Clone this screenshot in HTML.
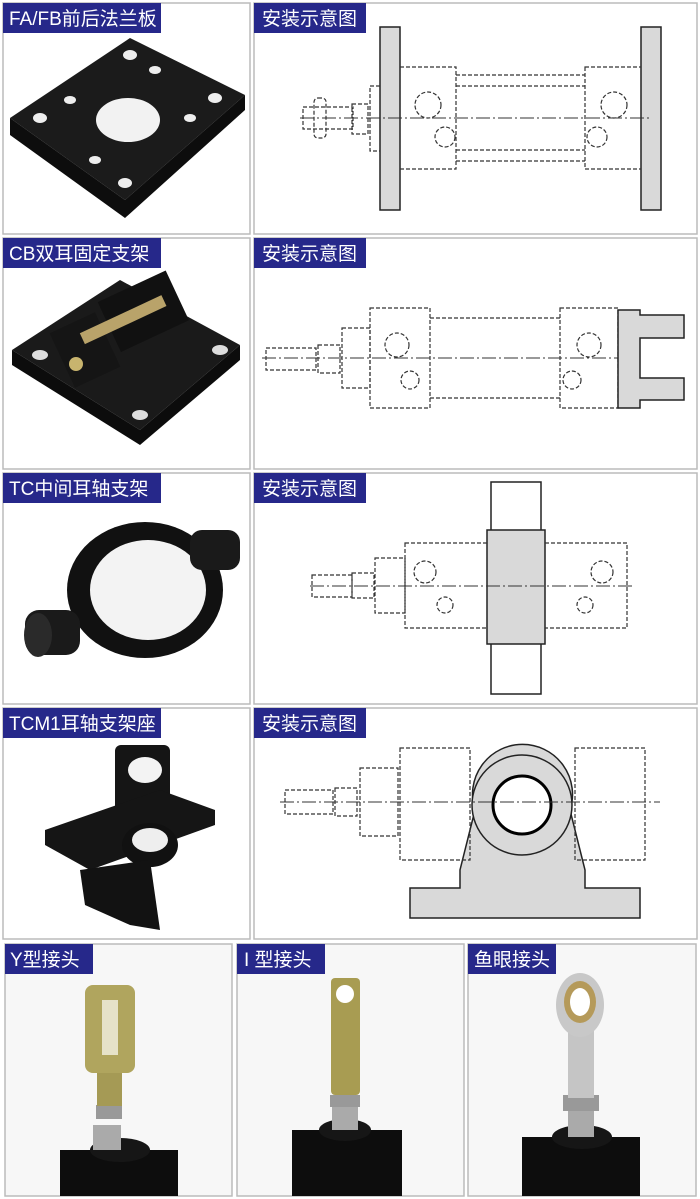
<!DOCTYPE html>
<html><head><meta charset="utf-8"><style>
html,body{margin:0;padding:0;background:#fff}
svg{display:block}
text{font-family:"Liberation Sans","Noto Sans CJK SC",sans-serif;fill:#fff;font-size:19px}
.d{fill:none;stroke:#333;stroke-width:1.2;stroke-dasharray:4 2}
.s{fill:none;stroke:#222;stroke-width:1.5}
.c{fill:none;stroke:#333;stroke-width:1;stroke-dasharray:14 3 2 3}
.g{fill:#d9d9d9;stroke:#222;stroke-width:1.5}
.p{fill:#fff;stroke:#bbb;stroke-width:1.5}
.lb{fill:#26288a}
</style></head><body>
<svg width="700" height="1199" viewBox="0 0 700 1199">
<rect width="700" height="1199" fill="#fff"/>
<rect class="p" x="3" y="3" width="247" height="231"/>
<rect class="p" x="254" y="3" width="443" height="231"/>
<rect class="p" x="3" y="238" width="247" height="231"/>
<rect class="p" x="254" y="238" width="443" height="231"/>
<rect class="p" x="3" y="473" width="247" height="231"/>
<rect class="p" x="254" y="473" width="443" height="231"/>
<rect class="p" x="3" y="708" width="247" height="231"/>
<rect class="p" x="254" y="708" width="443" height="231"/>
<rect class="p" x="5" y="944" width="227" height="252" style="fill:#f7f7f7"/>
<rect class="p" x="237" y="944" width="227" height="252" style="fill:#f7f7f7"/>
<rect class="p" x="468" y="944" width="228" height="252" style="fill:#f7f7f7"/>

<polygon points="10,118 130,38 245,95 125,200" fill="#1b1b1b"/>
<polygon points="125,200 245,95 245,110 125,218 10,135 10,118" fill="#0d0d0d"/>
<ellipse cx="128" cy="120" rx="32" ry="22" fill="#f2f2f2"/>
<g fill="#eee"><ellipse cx="40" cy="118" rx="7" ry="5"/><ellipse cx="130" cy="55" rx="7" ry="5"/><ellipse cx="215" cy="98" rx="7" ry="5"/><ellipse cx="125" cy="183" rx="7" ry="5"/><ellipse cx="70" cy="100" rx="6" ry="4"/><ellipse cx="155" cy="70" rx="6" ry="4"/><ellipse cx="190" cy="118" rx="6" ry="4"/><ellipse cx="95" cy="160" rx="6" ry="4"/></g>

<rect class="g" x="380" y="27" width="20" height="183"/>
<rect class="g" x="641" y="27" width="20" height="183"/>
<rect class="d" x="400" y="67" width="56" height="102"/>
<rect class="d" x="585" y="67" width="56" height="102"/>
<line class="d" x1="456" y1="75" x2="585" y2="75"/><line class="d" x1="456" y1="86" x2="585" y2="86"/>
<line class="d" x1="456" y1="150" x2="585" y2="150"/><line class="d" x1="456" y1="161" x2="585" y2="161"/>
<line class="c" x1="300" y1="118" x2="650" y2="118"/>
<rect class="d" x="370" y="86" width="10" height="65"/>
<rect class="d" x="352" y="104" width="16" height="30"/>
<rect class="d" x="303" y="107" width="50" height="22"/>
<rect class="d" x="314" y="98" width="12" height="40" rx="4"/>
<circle class="d" cx="428" cy="105" r="13"/><circle class="d" cx="445" cy="137" r="10"/>
<circle class="d" cx="614" cy="105" r="13"/><circle class="d" cx="597" cy="137" r="10"/>

<polygon points="12,350 120,280 240,345 140,430" fill="#1a1a1a"/>
<polygon points="12,350 140,430 140,445 12,365" fill="#0c0c0c"/>
<polygon points="140,430 240,345 240,360 140,445" fill="#0c0c0c"/>
<rect x="105" y="285" width="75" height="55" fill="#111" transform="rotate(-25 140 310)"/>
<rect x="60" y="320" width="50" height="60" fill="#151515" transform="rotate(-25 85 350)"/>
<rect x="78" y="315" width="90" height="12" fill="#b9a36a" transform="rotate(-25 120 320)"/>
<circle cx="76" cy="364" r="7" fill="#c8b46e"/>
<g fill="#ddd"><ellipse cx="40" cy="355" rx="8" ry="5"/><ellipse cx="220" cy="350" rx="8" ry="5"/><ellipse cx="140" cy="415" rx="8" ry="5"/></g>

<rect class="d" x="370" y="308" width="60" height="100"/>
<rect class="d" x="560" y="308" width="58" height="100"/>
<line class="d" x1="430" y1="318" x2="560" y2="318"/><line class="d" x1="430" y1="398" x2="560" y2="398"/>
<rect class="d" x="342" y="328" width="28" height="60"/>
<rect class="d" x="318" y="345" width="22" height="28"/>
<rect class="d" x="266" y="348" width="50" height="22"/>
<line class="c" x1="262" y1="358" x2="640" y2="358"/>
<circle class="d" cx="397" cy="345" r="12"/><circle class="d" cx="410" cy="380" r="9"/>
<circle class="d" cx="589" cy="345" r="12"/><circle class="d" cx="572" cy="380" r="9"/>
<path class="g" d="M618,310 H640 V315 H684 V338 H640 V378 H684 V400 H640 V408 H618 Z"/>

<ellipse cx="145" cy="590" rx="78" ry="68" fill="#111"/>
<ellipse cx="148" cy="590" rx="58" ry="50" fill="#f3f3f3"/>
<rect x="190" y="530" width="50" height="40" rx="12" fill="#1a1a1a"/>
<rect x="25" y="610" width="55" height="45" rx="14" fill="#1a1a1a"/>
<ellipse cx="38" cy="635" rx="14" ry="22" fill="#2a2a2a"/>

<rect class="s" x="491" y="482" width="50" height="212" fill="#fff"/>
<rect class="g" x="487" y="530" width="58" height="114"/>
<rect class="d" x="405" y="543" width="82" height="85"/>
<rect class="d" x="545" y="543" width="82" height="85"/>
<rect class="d" x="375" y="558" width="30" height="55"/>
<rect class="d" x="352" y="573" width="22" height="25"/>
<rect class="d" x="312" y="575" width="40" height="22"/>
<line class="c" x1="310" y1="586" x2="635" y2="586"/>
<circle class="d" cx="425" cy="572" r="11"/><circle class="d" cx="445" cy="605" r="8"/>
<circle class="d" cx="602" cy="572" r="11"/><circle class="d" cx="585" cy="605" r="8"/>

<rect x="115" y="745" width="55" height="80" rx="6" fill="#151515"/>
<ellipse cx="145" cy="770" rx="17" ry="13" fill="#f3f3f3"/>
<polygon points="45,830 160,790 215,810 215,825 90,870 45,845" fill="#151515"/>
<ellipse cx="150" cy="845" rx="28" ry="22" fill="#111"/>
<ellipse cx="150" cy="840" rx="18" ry="12" fill="#eee"/>
<polygon points="80,870 150,860 160,930 130,925 85,905" fill="#121212"/>

<path class="g" d="M410,888 H460 V870 L475,810 A50,50 0 1 1 570,810 L585,870 V888 H640 V918 H410 Z"/>
<circle cx="522" cy="805" r="50" fill="#d9d9d9" stroke="#222" stroke-width="1.5"/>
<circle cx="522" cy="805" r="29" fill="#fff" stroke="#000" stroke-width="3"/>
<rect class="d" x="400" y="748" width="70" height="112"/>
<rect class="d" x="575" y="748" width="70" height="112"/>
<rect class="d" x="360" y="768" width="38" height="68"/>
<rect class="d" x="335" y="788" width="22" height="28"/>
<rect class="d" x="285" y="790" width="48" height="24"/>
<line class="c" x1="280" y1="802" x2="660" y2="802"/>

<g>
<rect x="60" y="1150" width="118" height="46" fill="#0d0d0d"/>
<ellipse cx="120" cy="1150" rx="30" ry="12" fill="#161616"/>
<rect x="93" y="1125" width="28" height="25" fill="#aaa"/>
<rect x="96" y="1105" width="26" height="14" fill="#999"/>
<rect x="97" y="1070" width="25" height="36" fill="#a59a55"/>
<rect x="85" y="985" width="50" height="88" rx="8" fill="#b0a55e"/>
<rect x="102" y="1000" width="16" height="55" fill="#e6e2c8"/>
</g>
<g>
<rect x="292" y="1130" width="110" height="66" fill="#0d0d0d"/>
<ellipse cx="345" cy="1130" rx="26" ry="11" fill="#161616"/>
<rect x="332" y="1105" width="26" height="25" fill="#aaa"/>
<rect x="330" y="1095" width="30" height="12" fill="#999"/>
<rect x="331" y="978" width="29" height="117" rx="4" fill="#a89c52"/>
<circle cx="345" cy="994" r="9" fill="#fff"/>
</g>
<g>
<rect x="522" y="1137" width="118" height="59" fill="#0d0d0d"/>
<ellipse cx="582" cy="1137" rx="30" ry="12" fill="#161616"/>
<rect x="568" y="1110" width="26" height="27" fill="#aaa"/>
<rect x="563" y="1095" width="36" height="16" fill="#999"/>
<rect x="568" y="1030" width="26" height="68" fill="#c5c5c5"/>
<ellipse cx="580" cy="1005" rx="24" ry="32" fill="#c8c8c8"/>
<ellipse cx="580" cy="1002" rx="16" ry="21" fill="#b59a5a"/>
<ellipse cx="580" cy="1002" rx="10" ry="14" fill="#fff"/>
</g>

<rect class="lb" x="3" y="3" width="158" height="30"/><text x="9" y="25">FA/FB前后法兰板</text>
<rect class="lb" x="254" y="3" width="112" height="30"/><text x="262" y="25">安装示意图</text>
<rect class="lb" x="3" y="238" width="158" height="30"/><text x="9" y="260">CB双耳固定支架</text>
<rect class="lb" x="254" y="238" width="112" height="30"/><text x="262" y="260">安装示意图</text>
<rect class="lb" x="3" y="473" width="158" height="30"/><text x="9" y="495">TC中间耳轴支架</text>
<rect class="lb" x="254" y="473" width="112" height="30"/><text x="262" y="495">安装示意图</text>
<rect class="lb" x="3" y="708" width="158" height="30"/><text x="9" y="730">TCM1耳轴支架座</text>
<rect class="lb" x="254" y="708" width="112" height="30"/><text x="262" y="730">安装示意图</text>
<rect class="lb" x="5" y="944" width="88" height="30"/><text x="10" y="966">Y型接头</text>
<rect class="lb" x="237" y="944" width="88" height="30"/><text x="244" y="966">I 型接头</text>
<rect class="lb" x="468" y="944" width="88" height="30"/><text x="474" y="966">鱼眼接头</text>
</svg>
</body></html>
